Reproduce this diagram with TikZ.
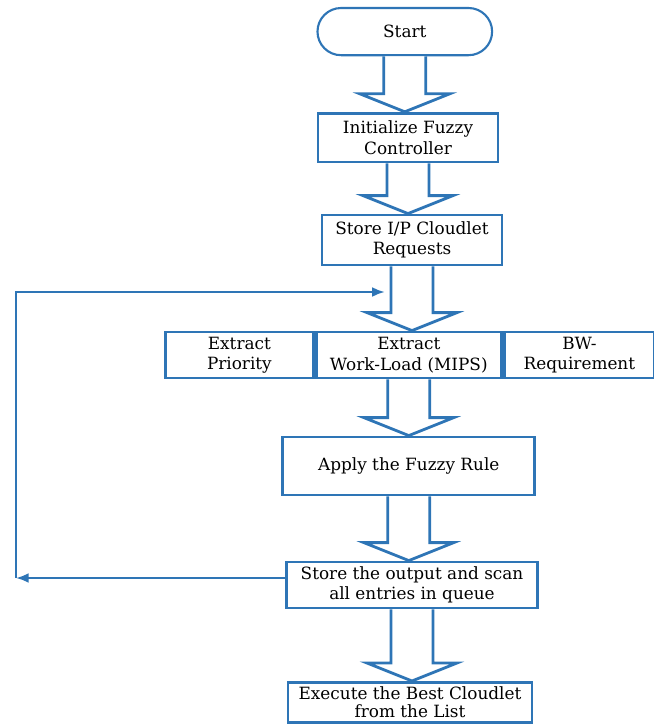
\documentclass[tikz,border=0pt]{standalone}
\usepackage{fontspec}
\setmainfont{DejaVu Serif}
\usepackage{tikz}
\usetikzlibrary{arrows.meta,positioning,calc,shapes.misc}
\definecolor{flowblue}{RGB}{46,117,182}

\begin{document}
\begin{tikzpicture}[
    font=\fontsize{12}{14.5}\selectfont,
    >=Latex,
    box/.style={draw=flowblue, line width=2pt, align=center, fill=white,
                inner sep=1.5pt},
    term/.style={draw=flowblue, line width=1.5pt, rounded rectangle,
                 fill=white, minimum width=46mm, minimum height=11.8mm},
    barrow/.style={draw=flowblue, line width=2pt, fill=white, line join=miter},
    back/.style={->, draw=flowblue, line width=1.5pt,
                 >={Latex[length=9pt,width=7pt]}},
]
\useasboundingbox (0,0) rectangle (16.35,-18.1);

%% ── Main column ─────────────────────────────────────────────────────────────
\node[term] (start)    at (10.12, -0.79) {Start};
\node[box, minimum width=45mm, minimum height=12.2mm]
            (init)     at (10.20, -3.44) {Initialize Fuzzy\\Controller};
\node[box, minimum width=45mm, minimum height=12.5mm]
            (storeip)  at (10.30, -6.00) {Store I/P Cloudlet\\Requests};

%% ── Extraction row ──────────────────────────────────────────────────────────
\node[box, minimum width=46.3mm, minimum height=11.5mm]
            (mips)     at (10.22, -8.875) {Extract\\Work-Load (MIPS)};
\node[box, minimum width=37mm, minimum height=11.5mm, left=0pt of mips]
            (prio)     {Extract\\Priority};
\node[box, minimum width=37.6mm, minimum height=11.5mm, right=0pt of mips]
            (bw)       {BW-\\Requirement};

\node[box, minimum width=63mm, minimum height=14.5mm]
            (apply)    at (10.22, -11.65) {Apply the Fuzzy Rule};
\node[box, minimum width=62.8mm, minimum height=11.5mm]
            (storeout) at (10.30, -14.625) {Store the output and scan\\all entries in queue};
\node[box, minimum width=61mm, minimum height=10mm, inner ysep=0.5pt,
      font=\fontsize{12}{13}\selectfont]
            (exec)     at (10.25, -17.56) {Execute the Best Cloudlet\\from the List};

%% ── Block arrows between the steps ──────────────────────────────────────────
\foreach \a/\b in {start/init, init/storeip, storeip/mips,
                   mips/apply, apply/storeout, storeout/exec}
  \draw[barrow]
    ($(\a.south)+(-.525,0)$)
    -- ($(\a.south |- \b.north)+(-.525,.45)$)
    -- ($(\a.south |- \b.north)+(-1.125,.45)$)
    -- (\a.south |- \b.north)
    -- ($(\a.south |- \b.north)+(1.125,.45)$)
    -- ($(\a.south |- \b.north)+(.525,.45)$)
    -- ($(\a.south)+(.525,0)$);

%% ── Feedback loop : scan queue → back above the extraction row ─────────────
\coordinate (loopL)  at (0.40, -14.45);
\coordinate (loopT)  at (0.40,  -7.30);
\coordinate (loopIn) at (9.62,  -7.30);
\draw[back] (storeout.west |- loopL) -- (loopL);
\draw[back] (loopL) -- (loopT) -- (loopIn);

\end{tikzpicture}
\end{document}
